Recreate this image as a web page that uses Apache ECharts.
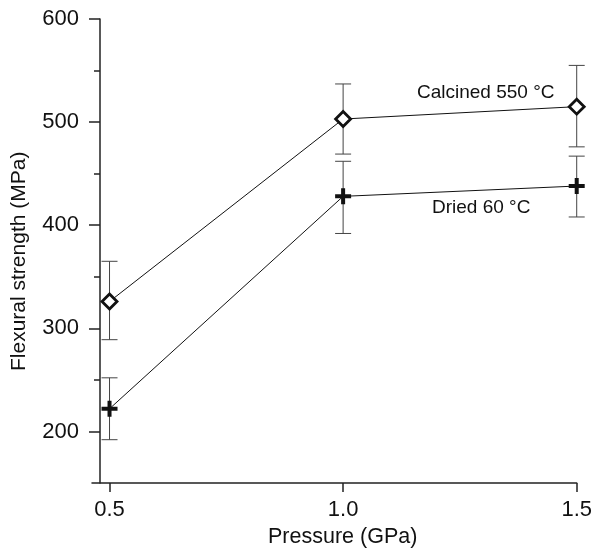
<!DOCTYPE html>
<html>
<head>
<meta charset="utf-8">
<script src="https://cdn.jsdelivr.net/npm/echarts@6/dist/echarts.min.js"></script>
<style>html,body{margin:0;padding:0;background:#fff}#c{width:595px;height:553px}</style>
</head>
<body>
<div id="c"></div>
<script>
const pressure = [0.5, 1.0, 1.5];
const calcined = [326, 503, 515];
const calcinedLow = [289, 469, 476];
const calcinedHigh = [365, 537, 555];
const dried = [222, 428, 438];
const driedLow = [192, 392, 408];
const driedHigh = [252, 462, 467];
const xTicks = [0.5, 1.0, 1.5];
const yMajorTicks = [200, 300, 400, 500, 600];
const yMinorTicks = [250, 350, 450, 550];
const calcinedLabel = 'Calcined 550 °C';
const driedLabel = 'Dried 60 °C';

const FONT = '"Liberation Sans", Arial, Helvetica, sans-serif';
const chart = echarts.init(document.getElementById('c'), null, {renderer: 'canvas'});

function errData(low, high) {
  return pressure.map((x, i) => [x, low[i], high[i]]);
}
function errSeries(low, high) {
  return {
    type: 'custom',
    data: errData(low, high),
    z: 1,
    silent: true,
    renderItem: function (params, api) {
      const x = api.value(0);
      const lo = api.coord([x, api.value(1)]);
      const hi = api.coord([x, api.value(2)]);
      const hw = 8;
      const st = {stroke: '#444', lineWidth: 1};
      return {
        type: 'group',
        children: [
          {type: 'line', shape: {x1: lo[0], y1: lo[1], x2: hi[0], y2: hi[1]}, style: st},
          {type: 'line', shape: {x1: lo[0] - hw, y1: lo[1], x2: lo[0] + hw, y2: lo[1]}, style: st},
          {type: 'line', shape: {x1: hi[0] - hw, y1: hi[1], x2: hi[0] + hw, y2: hi[1]}, style: st}
        ]
      };
    }
  };
}

const plusPath = 'path://M3,0 H5 V3 H8 V5 H5 V8 H3 V5 H0 V3 H3 Z';

chart.setOption({
  animation: false,
  grid: {left: 92, right: 13, top: 19, bottom: 70},
  xAxis: {
    type: 'value',
    min: 0.4625,
    max: 1.5,
    axisLine: {show: true, lineStyle: {color: '#222', width: 1.5}},
    axisTick: {show: true, customValues: xTicks, length: 9, lineStyle: {color: '#222', width: 1.5}},
    axisLabel: {customValues: xTicks, margin: 16, fontSize: 22, color: '#111', fontFamily: FONT,
      formatter: v => v.toFixed(1)},
    splitLine: {show: false}
  },
  yAxis: [{
    type: 'value',
    min: 150,
    max: 600,
    offset: -8,
    axisLine: {show: true, lineStyle: {color: '#222', width: 1.5}},
    axisTick: {show: true, customValues: yMajorTicks, length: 11, lineStyle: {color: '#222', width: 1.5}},
    axisLabel: {customValues: yMajorTicks, margin: 21, fontSize: 22, color: '#111', fontFamily: FONT},
    splitLine: {show: false}
  }, {
    type: 'value',
    min: 150,
    max: 600,
    position: 'left',
    offset: -8,
    axisLine: {show: false},
    axisTick: {show: true, customValues: yMinorTicks, length: 6, lineStyle: {color: '#222', width: 1.5}},
    axisLabel: {show: false},
    splitLine: {show: false}
  }],
  graphic: [
    {type: 'text', left: 268, top: 526, style: {text: 'Pressure (GPa)', font: '21.5px ' + FONT, fill: '#111'}},
    {type: 'text', x: 9, y: 371, rotation: Math.PI / 2, style: {text: 'Flexural strength (MPa)', font: '21px ' + FONT, fill: '#111', textVerticalAlign: 'top'}, originX: 0, originY: 0},
    {type: 'text', left: 417, top: 83, style: {text: calcinedLabel, font: '19px ' + FONT, fill: '#111'}},
    {type: 'text', left: 432, top: 198, style: {text: driedLabel, font: '19px ' + FONT, fill: '#111'}}
  ],
  series: [
    errSeries(calcinedLow, calcinedHigh),
    errSeries(driedLow, driedHigh),
    {
      type: 'line',
      data: pressure.map((x, i) => [x, calcined[i]]),
      symbol: 'diamond',
      symbolSize: [15, 15],
      lineStyle: {color: '#111', width: 1},
      itemStyle: {color: '#fff', borderColor: '#111', borderWidth: 2.8},
      z: 3
    },
    {
      type: 'line',
      data: pressure.map((x, i) => [x, dried[i]]),
      symbol: plusPath,
      symbolSize: [16, 16],
      lineStyle: {color: '#111', width: 1},
      itemStyle: {color: '#111', borderWidth: 0},
      z: 3
    }
  ]
});
</script>
</body>
</html>
